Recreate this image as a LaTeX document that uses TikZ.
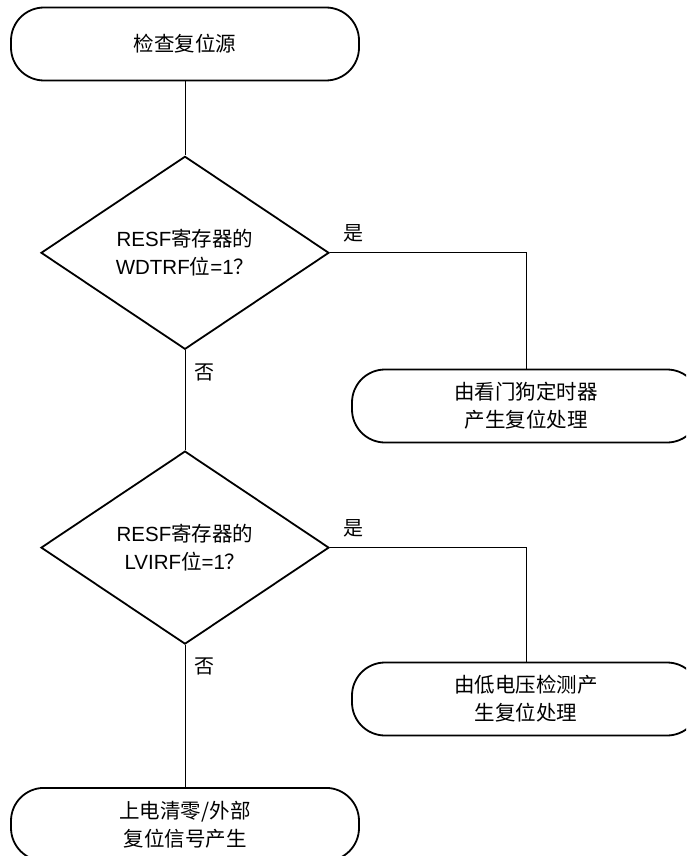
\documentclass[tikz,border=0pt]{standalone}
\usepackage{fontspec}
\setmainfont{Liberation Sans}
\newfontfamily\cjk{Noto Sans CJK SC}
\usepackage{tikz}
\usetikzlibrary{positioning,shapes.geometric}
\tikzset{
  rbase/.style={draw=black,line width=1.8pt,align=center,font=\fontsize{20.5}{28}\selectfont,inner sep=2pt},
  rterm/.style={rbase,rectangle,rounded corners=33pt,minimum width=348pt,minimum height=73pt},
  rdec/.style={rbase,diamond,aspect=1.5,minimum width=288pt,minimum height=193pt},
  rline/.style={line width=0.9pt,draw=black},
  rlab/.style={font=\fontsize{20}{24}\selectfont\cjk},
  ryes/.style={rlab,above,yshift=7pt},
  rno/.style={rlab,right,xshift=6pt,yshift=1pt}
}
\begin{document}
\begin{tikzpicture}[x=1pt,y=-1pt]
\clip (0,0) rectangle (686,856);
\node[rterm] (start) at (185,44) {\cjk 检查复位源};
\node[rdec, below=74pt of start] (dwdt) {RESF{\cjk 寄存器的}\\ WDTRF{\cjk 位}=1{\cjk ？}};
\node[rterm] (wdt) at (526,406) {\cjk 由看门狗定时器\\ \cjk 产生复位处理};
\node[rdec, below=100pt of dwdt] (dlvi) {RESF{\cjk 寄存器的}\\ LVIRF{\cjk 位}=1{\cjk ？}};
\node[rterm] (lvi) at (526,699) {\cjk 由低电压检测产\\ \cjk 生复位处理};
\node[rterm, below=142pt of dlvi] (por) {\cjk 上电清零/外部\\ \cjk 复位信号产生};
\draw[rline] (start) -- (dwdt);
\draw[rline] (dwdt.east) -| node[ryes,pos=0.06]{是} (wdt);
\draw[rline] (dwdt) -- node[rno,pos=0.23]{否} (dlvi);
\draw[rline] (dlvi.east) -| node[ryes,pos=0.06]{是} (lvi);
\draw[rline] (dlvi) -- node[rno,pos=0.16]{否} (por);
\end{tikzpicture}
\end{document}
